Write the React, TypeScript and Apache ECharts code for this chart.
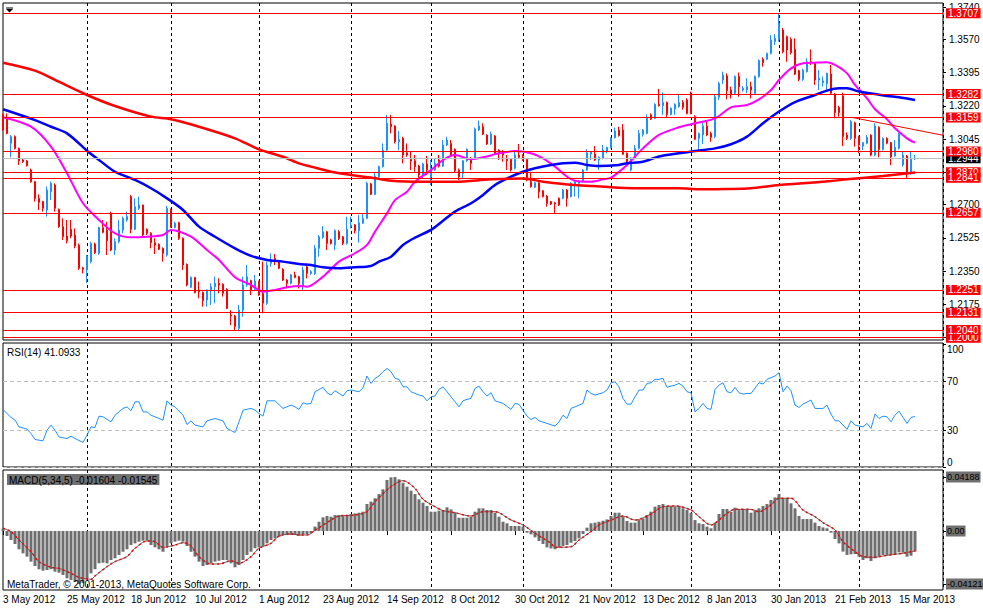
import React, { useEffect, useRef } from "react";
import * as echarts from "echarts";

// ---------- data ----------
// trading calendar
const startDate = "2012-05-03";
const closedDays = ["2012-12-25", "2013-01-01"];
const slotCount = 236; // visible bar slots (229 bars + empty space on the right)
const monthNames = ["Jan", "Feb", "Mar", "Apr", "May", "Jun", "Jul", "Aug", "Sep", "Oct", "Nov", "Dec"];
const labelEvery = 16;

// [open, high, low, close]
const candles: number[][] = [
  [1.3172,1.3180,1.3089,1.3093],[1.3160,1.3180,1.3070,1.3075],[1.3023,1.3066,1.2949,1.3058],[1.3058,1.3064,1.2990,1.2996],[1.2996,1.3000,1.2909,1.2931],
  [1.2935,1.2940,1.2920,1.2926],[1.2930,1.2935,1.2900,1.2905],[1.2882,1.2890,1.2815,1.2821],[1.2821,1.2825,1.2716,1.2733],[1.2733,1.2754,1.2672,1.2712],
  [1.2716,1.2720,1.2663,1.2681],[1.2672,1.2795,1.2637,1.2777],[1.2768,1.2821,1.2724,1.2812],[1.2803,1.2812,1.2663,1.2681],[1.2675,1.2680,1.2578,1.2584],
  [1.2584,1.2628,1.2514,1.2531],[1.2535,1.2619,1.2496,1.2510],[1.2570,1.2619,1.2523,1.2535],[1.2540,1.2575,1.2470,1.2482],[1.2487,1.2495,1.2356,1.2365],
  [1.2368,1.2372,1.2338,1.2360],[1.2356,1.2435,1.2286,1.2430],[1.2400,1.2505,1.2391,1.2496],[1.2493,1.2500,1.2440,1.2447],[1.2444,1.2584,1.2435,1.2579],
  [1.2579,1.2619,1.2549,1.2554],[1.2566,1.2610,1.2435,1.2510],[1.2654,1.2663,1.2455,1.2461],[1.2461,1.2523,1.2435,1.2505],[1.2505,1.2619,1.2496,1.2566],
  [1.2566,1.2637,1.2549,1.2628],[1.2619,1.2663,1.2610,1.2637],[1.2742,1.2751,1.2549,1.2570],[1.2570,1.2733,1.2566,1.2689],[1.2681,1.2742,1.2672,1.2698],
  [1.2698,1.2700,1.2535,1.2540],[1.2570,1.2575,1.2540,1.2549],[1.2549,1.2555,1.2470,1.2500],[1.2500,1.2523,1.2440,1.2487],[1.2491,1.2496,1.2460,1.2465],
  [1.2470,1.2475,1.2400,1.2444],[1.2435,1.2693,1.2426,1.2681],[1.2672,1.2680,1.2578,1.2584],[1.2580,1.2610,1.2575,1.2602],[1.2605,1.2610,1.2514,1.2523],
  [1.2523,1.2528,1.2356,1.2382],[1.2386,1.2390,1.2270,1.2277],[1.2265,1.2322,1.2260,1.2317],[1.2316,1.2320,1.2233,1.2237],[1.2251,1.2295,1.2207,1.2240],
  [1.2239,1.2243,1.2163,1.2195],[1.2198,1.2254,1.2163,1.2251],[1.2247,1.2286,1.2172,1.2268],[1.2268,1.2321,1.2181,1.2286],[1.2286,1.2312,1.2233,1.2277],
  [1.2281,1.2286,1.2216,1.2233],[1.2254,1.2260,1.2150,1.2154],[1.2119,1.2145,1.2066,1.2114],[1.2114,1.2120,1.2040,1.2058],[1.2049,1.2172,1.2040,1.2145],
  [1.2145,1.2321,1.2110,1.2277],[1.2277,1.2382,1.2268,1.2321],[1.2300,1.2305,1.2224,1.2251],[1.2254,1.2330,1.2251,1.2298],[1.2295,1.2300,1.2220,1.2224],
  [1.2233,1.2400,1.2128,1.2181],[1.2181,1.2400,1.2172,1.2382],[1.2391,1.2444,1.2373,1.2400],[1.2417,1.2440,1.2382,1.2400],[1.2400,1.2405,1.2360,1.2365],
  [1.2360,1.2365,1.2298,1.2303],[1.2303,1.2308,1.2259,1.2286],[1.2286,1.2335,1.2280,1.2330],[1.2330,1.2347,1.2312,1.2317],[1.2321,1.2325,1.2259,1.2286],
  [1.2268,1.2373,1.2250,1.2356],[1.2373,1.2391,1.2312,1.2338],[1.2338,1.2356,1.2330,1.2347],[1.2338,1.2487,1.2330,1.2470],[1.2470,1.2540,1.2426,1.2531],
  [1.2528,1.2587,1.2520,1.2557],[1.2557,1.2562,1.2461,1.2496],[1.2514,1.2520,1.2490,1.2496],[1.2487,1.2570,1.2461,1.2563],[1.2557,1.2566,1.2514,1.2522],
  [1.2531,1.2535,1.2487,1.2496],[1.2496,1.2636,1.2490,1.2570],[1.2584,1.2636,1.2575,1.2593],[1.2593,1.2598,1.2549,1.2563],[1.2563,1.2645,1.2500,1.2605],
  [1.2602,1.2654,1.2598,1.2628],[1.2628,1.2821,1.2623,1.2812],[1.2809,1.2815,1.2750,1.2754],[1.2754,1.2868,1.2750,1.2850],[1.2847,1.2905,1.2829,1.2900],
  [1.2900,1.3022,1.2895,1.2987],[1.2987,1.3172,1.2980,1.3128],[1.3124,1.3172,1.3075,1.3110],[1.3114,1.3118,1.3022,1.3031],[1.3031,1.3087,1.2987,1.3043],
  [1.3049,1.3057,1.2917,1.2961],[1.2973,1.3022,1.2952,1.2961],[1.2938,1.2978,1.2882,1.2929],[1.2931,1.2961,1.2873,1.2900],[1.2903,1.2910,1.2829,1.2856],
  [1.2856,1.2920,1.2838,1.2914],[1.2914,1.2956,1.2856,1.2882],[1.2847,1.2935,1.2803,1.2891],[1.2882,1.2943,1.2878,1.2917],[1.2935,1.2961,1.2895,1.2903],
  [1.2903,1.3040,1.2898,1.3014],[1.3014,1.3057,1.3008,1.3040],[1.3022,1.3040,1.2955,1.2961],[1.2991,1.2996,1.2870,1.2879],[1.2882,1.2890,1.2829,1.2847],
  [1.2865,1.2935,1.2838,1.2931],[1.2931,1.2996,1.2925,1.2991],[1.2943,1.2950,1.2882,1.2917],[1.2943,1.3105,1.2938,1.3098],[1.3093,1.3142,1.3088,1.3114],
  [1.3110,1.3128,1.3066,1.3071],[1.3066,1.3070,1.3014,1.3019],[1.3019,1.3084,1.3014,1.3071],[1.3061,1.3066,1.2965,1.2970],[1.2987,1.2991,1.2935,1.2970],
  [1.2973,1.2987,1.2926,1.2961],[1.2943,1.2961,1.2882,1.2931],[1.2938,1.2943,1.2875,1.2882],[1.2891,1.2987,1.2885,1.2961],[1.2961,1.3019,1.2945,1.2949],
  [1.2952,1.2965,1.2930,1.2938],[1.2938,1.2943,1.2823,1.2829],[1.2821,1.2873,1.2790,1.2794],[1.2791,1.2820,1.2787,1.2815],[1.2815,1.2820,1.2733,1.2768],
  [1.2773,1.2777,1.2738,1.2742],[1.2745,1.2750,1.2689,1.2707],[1.2716,1.2720,1.2698,1.2703],[1.2710,1.2715,1.2654,1.2703],[1.2733,1.2738,1.2693,1.2698],
  [1.2733,1.2782,1.2728,1.2777],[1.2777,1.2782,1.2689,1.2733],[1.2742,1.2818,1.2738,1.2812],[1.2803,1.2825,1.2742,1.2821],[1.2812,1.2829,1.2733,1.2821],
  [1.2821,1.2887,1.2815,1.2882],[1.2882,1.2991,1.2878,1.2973],[1.2966,1.2982,1.2935,1.2978],[1.2966,1.3008,1.2930,1.2935],[1.2935,1.2954,1.2882,1.2949],
  [1.2943,1.3014,1.2938,1.2987],[1.2978,1.3005,1.2970,1.3001],[1.3001,1.3054,1.2996,1.3049],[1.3052,1.3105,1.3048,1.3087],[1.3093,1.3110,1.3058,1.3063],
  [1.3093,1.3124,1.2961,1.2965],[1.2970,1.2975,1.2915,1.2926],[1.2882,1.2950,1.2875,1.2944],[1.2944,1.3014,1.2938,1.2996],[1.2996,1.3093,1.2990,1.3075],
  [1.3070,1.3098,1.3058,1.3093],[1.3075,1.3175,1.3070,1.3154],[1.3172,1.3180,1.3145,1.3151],[1.3154,1.3233,1.3150,1.3228],[1.3228,1.3309,1.3216,1.3221],
  [1.3221,1.3291,1.3172,1.3238],[1.3238,1.3243,1.3158,1.3175],[1.3175,1.3212,1.3170,1.3207],[1.3203,1.3233,1.3172,1.3228],[1.3216,1.3280,1.3210,1.3238],
  [1.3237,1.3250,1.3200,1.3212],[1.3251,1.3260,1.3175,1.3180],[1.3282,1.3295,1.3176,1.3180],[1.3163,1.3170,1.3040,1.3044],[1.3049,1.3079,1.2988,1.3075],
  [1.3067,1.3131,1.3019,1.3114],[1.3114,1.3137,1.3060,1.3067],[1.3075,1.3084,1.3031,1.3054],[1.3058,1.3277,1.3050,1.3268],[1.3265,1.3347,1.3251,1.3338],
  [1.3356,1.3400,1.3335,1.3382],[1.3377,1.3391,1.3254,1.3300],[1.3303,1.3321,1.3259,1.3277],[1.3286,1.3380,1.3280,1.3374],[1.3374,1.3395,1.3268,1.3321],
  [1.3303,1.3324,1.3295,1.3312],[1.3303,1.3365,1.3286,1.3321],[1.3321,1.3347,1.3259,1.3303],[1.3286,1.3380,1.3280,1.3374],[1.3374,1.3465,1.3368,1.3458],
  [1.3465,1.3475,1.3426,1.3447],[1.3465,1.3500,1.3460,1.3496],[1.3496,1.3593,1.3490,1.3566],[1.3558,1.3598,1.3540,1.3575],[1.3570,1.3707,1.3558,1.3654],
  [1.3619,1.3630,1.3496,1.3505],[1.3584,1.3590,1.3452,1.3514],[1.3570,1.3580,1.3490,1.3500],[1.3518,1.3575,1.3382,1.3387],[1.3405,1.3410,1.3350,1.3359],
  [1.3359,1.3415,1.3352,1.3408],[1.3400,1.3470,1.3395,1.3452],[1.3452,1.3517,1.3435,1.3447],[1.3444,1.3450,1.3330,1.3356],[1.3356,1.3409,1.3303,1.3365],
  [1.3342,1.3374,1.3321,1.3351],[1.3338,1.3394,1.3294,1.3391],[1.3388,1.3435,1.3282,1.3286],[1.3282,1.3287,1.3154,1.3184],[1.3212,1.3220,1.3163,1.3184],
  [1.3272,1.3289,1.3008,1.3058],[1.3066,1.3080,1.3040,1.3049],[1.3049,1.3145,1.3040,1.3137],[1.3131,1.3137,1.3005,1.3049],[1.3058,1.3063,1.2970,1.3014],
  [1.3008,1.3030,1.2987,1.3026],[1.3023,1.3066,1.3018,1.3054],[1.3066,1.3070,1.2955,1.2961],[1.2961,1.3128,1.2955,1.3114],[1.3107,1.3112,1.2949,1.2991],
  [1.2991,1.3054,1.2985,1.3049],[1.3049,1.3054,1.3018,1.3023],[1.3026,1.3030,1.2908,1.2952],[1.2956,1.3040,1.2952,1.3002],[1.2996,1.3077,1.2990,1.3072],
  [1.2909,1.2978,1.2900,1.2961],[1.2956,1.2961,1.2838,1.2865],[1.2865,1.2978,1.2856,1.2939],[1.2940,1.2961,1.2935,1.2944],
];

// moving averages, sampled [barIndex, value]
const maFast: number[][] = [
  [0,1.3160],[7,1.3110],[12,1.3005],[16,1.2865],[20,1.2707],[24,1.2619],[28,1.2549],[32,1.2528],[36,1.2531],[40,1.2540],[42,1.2567],[47,1.2531],
  [51,1.2461],[54,1.2409],[58,1.2318],[62,1.2277],[65,1.2242],[68,1.2251],[71,1.2265],[74,1.2272],[76,1.2268],[80,1.2321],[84,1.2400],[88,1.2444],
  [91,1.2488],[93,1.2558],[96,1.2654],[98,1.2724],[101,1.2768],[103,1.2821],[107,1.2882],[110,1.2935],[113,1.2961],[117,1.2939],[120,1.2949],
  [124,1.2970],[128,1.2982],[132,1.2970],[135,1.2944],[138,1.2900],[141,1.2847],[143,1.2826],[147,1.2821],[150,1.2833],[152,1.2842],[154,1.2873],
  [156,1.2909],[160,1.2996],[164,1.3067],[169,1.3107],[173,1.3128],[178,1.3154],[182,1.3212],[186,1.3224],[189,1.3254],[192,1.3303],[194,1.3356],
  [197,1.3417],[200,1.3444],[203,1.3447],[206,1.3449],[208,1.3435],[211,1.3391],[213,1.3330],[216,1.3259],[218,1.3202],[221,1.3149],[223,1.3102],
  [226,1.3049],[228,1.3026],
];
const maMid: number[][] = [
  [0,1.3202],[8,1.3145],[12,1.3110],[16,1.3075],[21,1.2984],[24,1.2935],[28,1.2873],[33,1.2830],[37,1.2786],[41,1.2733],[45,1.2672],[49,1.2584],
  [53,1.2531],[58,1.2470],[62,1.2430],[66,1.2409],[70,1.2400],[74,1.2388],[77,1.2382],[80,1.2370],[84,1.2365],[88,1.2370],[92,1.2377],[94,1.2400],
  [97,1.2426],[100,1.2488],[103,1.2526],[107,1.2567],[110,1.2615],[113,1.2663],[117,1.2707],[120,1.2751],[123,1.2803],[127,1.2847],[130,1.2873],
  [133,1.2891],[137,1.2909],[140,1.2918],[143,1.2921],[146,1.2909],[149,1.2903],[154,1.2909],[156,1.2918],[160,1.2926],[164,1.2953],[169,1.2970],
  [173,1.2982],[178,1.2996],[182,1.3018],[186,1.3058],[190,1.3128],[194,1.3190],[198,1.3240],[203,1.3277],[206,1.3300],[209,1.3312],[211,1.3312],
  [214,1.3295],[218,1.3282],[221,1.3272],[224,1.3265],[228,1.3251],
];
const maSlow: number[][] = [
  [0,1.3447],[8,1.3405],[13,1.3356],[21,1.3277],[28,1.3219],[37,1.3163],[42,1.3149],[49,1.3110],[58,1.3049],[64,1.2991],[70,1.2952],[74,1.2917],
  [77,1.2900],[82,1.2873],[87,1.2856],[93,1.2839],[97,1.2826],[105,1.2821],[113,1.2821],[122,1.2833],[130,1.2837],[135,1.2821],[140,1.2809],
  [147,1.2798],[154,1.2789],[160,1.2786],[169,1.2786],[174,1.2781],[181,1.2782],[187,1.2786],[194,1.2803],[200,1.2812],[207,1.2824],[211,1.2833],
  [220,1.2851],[228,1.2869],
];

// horizontal levels and trend line
const levelPrices = [1.3707, 1.3282, 1.3159, 1.2980, 1.2870, 1.2841, 1.2657, 1.2251, 1.2131, 1.2000, 1.2040];
const bidPrice = 1.2944;
const trendLine = [[212, 1.3160], [235, 1.3065]];
const priceTicks = [1.3740, 1.3570, 1.3395, 1.3220, 1.3045, 1.2870, 1.2700, 1.2525, 1.2350, 1.2175, 1.2000];
const priceLabelsHidden = [1.2870, 1.2000]; // covered by the level labels in the picture
const priceMin = 1.19875;
const priceMax = 1.37612;

// RSI(14), sampled [barIndex, value]
const rsiPts: number[][] = [
  [0,46.9],[2,40.4],[3,38.2],[4,32.7],[6,30.8],[7,27.3],[8,22.4],[10,21.3],[11,30],[12,34.1],[13,30],[14,24.5],[16,23.2],[17,25.1],[18,23.2],
  [20,20],[21,25.9],[22,32.7],[23,32.2],[24,41.4],[25,40.9],[27,36.8],[28,42.2],[30,47.7],[31,49],[32,45.8],[33,53.1],[34,53.1],[35,44.9],
  [36,44.9],[37,42.2],[40,38.2],[41,53.9],[42,50.4],[43,49],[45,42.2],[46,34.6],[47,37.6],[48,34.1],[50,32.7],[51,37.6],[53,39.5],[55,37.6],
  [56,31.4],[58,28.1],[59,36.8],[60,46.3],[62,47.7],[63,46.3],[64,43.6],[65,41.4],[66,53.9],[68,53.9],[70,47.7],[72,50.4],[73,49],[74,46.9],
  [75,52.3],[76,51.2],[77,51.8],[78,61.3],[80,64.9],[81,60.5],[82,58.6],[83,62.1],[84,59.9],[85,57.8],[86,62.1],[87,62.7],[89,61.3],[90,64.5],
  [91,74.1],[92,68.1],[93,72.2],[94,74.1],[95,77.6],[96,80.3],[97,77.6],[98,72.2],[99,71.4],[100,65.3],[101,65.3],[102,61.3],[104,58.6],
  [105,57.8],[106,53.9],[107,57.2],[108,57.8],[109,63.2],[110,65.3],[111,61.3],[113,53.1],[114,49],[115,53.9],[116,55.1],[117,55.9],[118,64],
  [119,65.9],[120,61.3],[121,57.8],[122,60.5],[123,53.9],[125,51.8],[127,46.9],[128,51.8],[129,51],[131,41.4],[132,38.7],[133,40.4],[134,37.6],
  [136,35.5],[138,33.3],[139,36.8],[140,42.2],[141,39.5],[142,47.7],[143,49],[145,51.8],[146,62.7],[147,59.9],[148,58.6],[150,60.5],[151,62.7],
  [152,68.6],[153,69.4],[154,65.3],[155,55.9],[156,51.2],[157,51.2],[158,57.2],[159,62.7],[160,62.7],[161,68.1],[162,68.6],[163,71.4],[164,71.4],
  [165,72.2],[166,64.9],[167,65.9],[168,66.7],[169,68.1],[170,65.9],[171,61.3],[172,60.5],[173,44.9],[174,47.7],[175,51.8],[176,47.7],[177,46.9],
  [178,63.2],[179,66.7],[180,68.6],[181,61.3],[182,60.5],[183,64.9],[184,60.5],[185,59.4],[186,59.9],[187,59.9],[189,68.6],[190,67.6],[191,71.4],
  [193,74.1],[194,76.8],[195,61.3],[196,65.9],[197,62.1],[198,50.4],[199,48.5],[200,51.2],[202,54.5],[203,47.7],[205,47.7],[206,50.4],[207,43.1],
  [208,37.6],[209,37.6],[211,30.6],[212,37.6],[213,34.1],[215,32.7],[216,35.5],[217,31.4],[218,43.1],[219,39.5],[220,41.4],[221,40.9],[222,36.8],
  [223,42.2],[224,45.5],[225,40.4],[226,35.5],[227,40.4],[228,41.0933],
];
const rsiLevels = [70, 30, 0];
const rsiTicks = [100, 70, 30, 0];

// MACD(5,34,5)
const macdHist = [
  0.0018,-0.0039,-0.0070,-0.0101,-0.0142,-0.0173,-0.0199,-0.0238,-0.0272,-0.0297,
  -0.0308,-0.0303,-0.0297,-0.0316,-0.0324,-0.0342,-0.0367,-0.0380,-0.0395,-0.04121,
  -0.0405,-0.0370,-0.0329,-0.0297,-0.0251,-0.0246,-0.0251,-0.0225,-0.0212,-0.0186,
  -0.0161,-0.0142,-0.0109,-0.0096,-0.0083,-0.0075,-0.0075,-0.0109,-0.0127,-0.0142,
  -0.0161,-0.0116,-0.0096,-0.0083,-0.0075,-0.0083,-0.0116,-0.0161,-0.0199,-0.0238,
  -0.0272,-0.0264,-0.0251,-0.0238,-0.0231,-0.0225,-0.0225,-0.0251,-0.0282,-0.0264,
  -0.0225,-0.0186,-0.0161,-0.0134,-0.0127,-0.0116,-0.0096,-0.0070,-0.0057,-0.0044,
  -0.0031,-0.0031,-0.0031,-0.0031,-0.0036,-0.0028,-0.0025,-0.0015,0.0034,0.0072,
  0.0106,0.0116,0.0111,0.0124,0.0124,0.0116,0.0124,0.0132,0.0137,0.0142,
  0.0150,0.0210,0.0228,0.0254,0.0287,0.0324,0.0396,0.0417,0.04188,0.0401,
  0.0375,0.0344,0.0313,0.0287,0.0246,0.0220,0.0194,0.0150,0.0150,0.0158,
  0.0163,0.0184,0.0168,0.0142,0.0103,0.0103,0.0103,0.0111,0.0150,0.0176,
  0.0176,0.0163,0.0163,0.0142,0.0111,0.0072,0.0060,0.0039,0.0039,0.0039,
  0.0034,-0.0013,-0.0026,-0.0049,-0.0078,-0.0101,-0.0127,-0.0135,-0.0142,-0.0127,
  -0.0116,-0.0109,-0.0091,-0.0078,-0.0057,-0.0023,0.0026,0.0060,0.0065,0.0072,
  0.0080,0.0090,0.0117,0.0142,0.0142,0.0111,0.0078,0.0065,0.0065,0.0085,
  0.0098,0.0124,0.0150,0.0189,0.0202,0.0210,0.0194,0.0194,0.0189,0.0189,
  0.0176,0.0163,0.0142,0.0085,0.0060,0.0054,0.0034,0.0021,0.0065,0.0132,
  0.0171,0.0171,0.0150,0.0181,0.0168,0.0168,0.0163,0.0142,0.0158,0.0176,
  0.0194,0.0210,0.0241,0.0261,0.0287,0.0254,0.0254,0.0215,0.0176,0.0117,
  0.0093,0.0093,0.0093,0.0065,0.0039,0.0028,0.0021,-0.0013,-0.0062,-0.0096,
  -0.0160,-0.0186,-0.0181,-0.0179,-0.0199,-0.0225,-0.0212,-0.0233,-0.0212,-0.0199,
  -0.0186,-0.0186,-0.0181,-0.0179,-0.0166,-0.0168,-0.0199,-0.0192,-0.01604,
];
const macdSignal: number[][] = [
  [0,0.0021],[2,-0.0005],[4,-0.0070],[7,-0.0161],[9,-0.0238],[12,-0.0282],[14,-0.0290],[17,-0.0329],[19,-0.0360],[22,-0.0375],[23,-0.0349],
  [26,-0.0277],[28,-0.0238],[31,-0.0199],[33,-0.0134],[36,-0.0078],[38,-0.0083],[40,-0.0127],[43,-0.0109],[45,-0.0091],[47,-0.0116],[49,-0.0199],
  [52,-0.0256],[54,-0.0256],[57,-0.0231],[59,-0.0251],[62,-0.0199],[64,-0.0134],[67,-0.0096],[69,-0.0039],[72,-0.0023],[74,-0.0031],[76,-0.0031],
  [78,0.0005],[82,0.0085],[84,0.0116],[88,0.0124],[91,0.0150],[93,0.0228],[97,0.0344],[100,0.0391],[103,0.0331],[105,0.0246],[108,0.0189],
  [110,0.0158],[113,0.0142],[117,0.0116],[120,0.0150],[123,0.0150],[127,0.0085],[130,0.0047],[133,-0.0018],[137,-0.0096],[138,-0.0127],
  [142,-0.0122],[144,-0.0070],[147,-0.0005],[149,0.0047],[152,0.0085],[155,0.0116],[158,0.0085],[162,0.0132],[165,0.0189],[168,0.0194],
  [172,0.0163],[174,0.0111],[177,0.0047],[178,0.0060],[181,0.0137],[183,0.0168],[187,0.0168],[189,0.0150],[192,0.0202],[194,0.0254],
  [197,0.0254],[200,0.0163],[203,0.0111],[205,0.0065],[208,0.0008],[210,-0.0083],[213,-0.0160],[215,-0.0199],[218,-0.0204],[220,-0.0194],
  [223,-0.0181],[225,-0.0173],[228,-0.01545],
];
const macdTicks = [0.04188, 0, -0.04121];
const macdMin = -0.04581;
const macdMax = 0.04737;

const rsiTitle = "RSI(14) 41.0933";
const macdTitle = "MACD(5,34,5) -0.01604 -0.01545";
const copyright = "MetaTrader, \u00a9 2001-2013, MetaQuotes Software Corp.";

// ---------- helpers ----------
function buildCalendar() {
  const dates: string[] = [];
  const monthStarts = new Set<number>();
  const d = new Date(startDate + "T00:00:00Z");
  let prevMonth = -1;
  while (dates.length < slotCount) {
    const wd = d.getUTCDay();
    const iso = d.toISOString().slice(0, 10);
    if (wd !== 0 && wd !== 6 && closedDays.indexOf(iso) < 0) {
      const m = d.getUTCMonth();
      if (prevMonth !== -1 && m !== prevMonth) monthStarts.add(dates.length);
      prevMonth = m;
      dates.push(`${d.getUTCDate()} ${monthNames[m]} ${d.getUTCFullYear()}`);
    }
    d.setUTCDate(d.getUTCDate() + 1);
  }
  return { dates, monthStarts };
}

const FONT = "'Liberation Sans',Arial,sans-serif";
const FS = 10;

function buildOption() {
  const { dates, monthStarts } = buildCalendar();
  const isLabel = (i: number) => i % labelEvery === 0;
  const gridBox = [
    { left: 3, top: 3, width: 940, height: 337 },
    { left: 3, top: 343, width: 940, height: 124 },
    { left: 3, top: 470, width: 940, height: 120 },
  ];
  const grid = gridBox.map((g) => ({
    ...g,
    show: true,
    borderColor: "#000",
    borderWidth: 1,
    backgroundColor: "#fff",
    containLabel: false,
    outerBoundsMode: "none",
  }));
  const xAxis = [0, 1, 2].map((g) => ({
    type: "category",
    gridIndex: g,
    data: dates,
    boundaryGap: false,
    axisLine: { show: false },
    axisTick: { show: g === 2, interval: isLabel, length: 4, lineStyle: { color: "#000" } },
    axisLabel: {
      show: g === 2,
      interval: isLabel,
      align: "left",
      margin: 4,
      color: "#000",
      fontSize: FS,
      fontFamily: FONT,
    },
    splitLine: {
      show: true,
      interval: (i: number) => monthStarts.has(i),
      lineStyle: { color: "#000", width: 1, type: [3, 3] },
    },
  }));
  const commonY = {
    type: "value",
    position: "right",
    axisLine: { show: false },
    splitLine: { show: false },
  };
  const priceLabelValues = priceTicks.filter((v) => priceLabelsHidden.indexOf(v) < 0);
  const yAxis = [
    {
      ...commonY,
      gridIndex: 0,
      min: priceMin,
      max: priceMax,
      axisTick: { show: true, length: 3, customValues: priceTicks, lineStyle: { color: "#000" } },
      axisLabel: {
        customValues: priceLabelValues,
        formatter: (v: number) => v.toFixed(4),
        color: "#000",
        fontSize: FS,
        lineHeight: 10,
        fontFamily: FONT,
        margin: 6,
      },
    },
    {
      ...commonY,
      gridIndex: 1,
      min: 0,
      max: 101,
      axisTick: { show: true, length: 3, customValues: rsiTicks, lineStyle: { color: "#000" } },
      axisLabel: {
        customValues: rsiTicks,
        formatter: (v: number) => (v >= 100 ? "{dn|100}" : v <= 0 ? "{up|0}" : String(Math.round(v))),
        rich: {
          dn: { padding: [10, 0, 0, 0], fontSize: FS, fontFamily: FONT, color: "#000" },
          up: { padding: [0, 0, 10, 0], fontSize: FS, fontFamily: FONT, color: "#000" },
        },
        color: "#000",
        fontSize: FS,
        fontFamily: FONT,
        margin: 4,
      },
    },
    {
      ...commonY,
      gridIndex: 2,
      min: macdMin,
      max: macdMax,
      axisTick: { show: true, length: 3, customValues: macdTicks, lineStyle: { color: "#000" } },
      axisLabel: {
        customValues: macdTicks,
        formatter: (v: number) => (v === 0 ? "0.00" : v.toFixed(5)),
        color: "#000",
        backgroundColor: "#707070",
        padding: [1, 1, 0, 1],
        fontSize: 9,
        lineHeight: 10,
        fontFamily: FONT,
        margin: 3,
      },
    },
  ];

  const levelLabel = {
    show: true,
    position: "end",
    distance: 3,
    color: "#fff",
    backgroundColor: "#ff0000",
    padding: [0, 2, 0, 2],
    fontSize: FS,
    lineHeight: 10,
    fontFamily: FONT,
  };
  const markBase = {
    silent: true,
    symbol: ["none", "none"],
    animation: false,
    precision: 5,
  };

  const series: any[] = [
    {
      type: "candlestick",
      name: "price",
      xAxisIndex: 0,
      yAxisIndex: 0,
      barWidth: 2,
      silent: true,
      z: 2,
      data: candles.map(([o, h, l, c]) => [o, c, l, h]),
      itemStyle: {
        color: "#1E90FF",
        color0: "#FF0000",
        borderColor: "#1E90FF",
        borderColor0: "#FF0000",
        borderWidth: 1,
      },
    },
    {
      type: "line",
      name: "maFast",
      xAxisIndex: 0,
      yAxisIndex: 0,
      data: maFast,
      showSymbol: false,
      silent: true,
      smooth: 0.3,
      z: 3,
      lineStyle: { color: "#FF00FF", width: 2 },
      markLine: {
        ...markBase,
        lineStyle: { color: "#c0c0c0", width: 1, type: "solid" },
        label: { ...levelLabel, backgroundColor: "#000", color: "#fff" },
        data: [{ yAxis: bidPrice, label: { formatter: bidPrice.toFixed(4) } }],
      },
    },
    {
      type: "line",
      name: "maMid",
      xAxisIndex: 0,
      yAxisIndex: 0,
      data: maMid,
      showSymbol: false,
      silent: true,
      smooth: 0.3,
      z: 3,
      lineStyle: { color: "#0000FF", width: 2.5 },
    },
    {
      type: "line",
      name: "maSlow",
      xAxisIndex: 0,
      yAxisIndex: 0,
      data: maSlow,
      showSymbol: false,
      silent: true,
      smooth: 0.3,
      z: 4,
      lineStyle: { color: "#FF0000", width: 2.5 },
      markLine: {
        ...markBase,
        lineStyle: { color: "#ff0000", width: 1, type: "solid" },
        label: levelLabel,
        data: [
          ...levelPrices.map((v) => ({ yAxis: v, label: { formatter: v.toFixed(4) } })),
          [
            { coord: trendLine[0], label: { show: false } },
            { coord: trendLine[1], label: { show: false } },
          ],
        ],
      },
    },
    {
      type: "line",
      name: "rsi",
      xAxisIndex: 1,
      yAxisIndex: 1,
      data: rsiPts,
      showSymbol: false,
      silent: true,
      lineStyle: { color: "#1E90FF", width: 1 },
      markLine: {
        ...markBase,
        label: { show: false },
        lineStyle: { color: "#c0c0c0", width: 1, type: [4, 3] },
        data: rsiLevels.map((v) => ({ yAxis: v })),
      },
    },
    {
      type: "bar",
      name: "macd",
      xAxisIndex: 2,
      yAxisIndex: 2,
      data: macdHist,
      barWidth: 3,
      silent: true,
      itemStyle: { color: "#6f6f6f" },
    },
    {
      type: "line",
      name: "signalBase",
      xAxisIndex: 2,
      yAxisIndex: 2,
      data: macdSignal,
      showSymbol: false,
      silent: true,
      smooth: 0.3,
      z: 3,
      lineStyle: { color: "#606060", width: 1 },
    },
    {
      type: "line",
      name: "signal",
      xAxisIndex: 2,
      yAxisIndex: 2,
      data: macdSignal,
      showSymbol: false,
      silent: true,
      smooth: 0.3,
      z: 4,
      lineStyle: { color: "#FF0000", width: 1.5, type: [2, 3] },
    },
  ];

  const graphic = [
    {
      type: "polygon",
      silent: true,
      shape: { points: [[6, 9], [13, 9], [9.5, 12.5]] },
      style: { fill: "#000" },
    },
    {
      type: "line",
      silent: true,
      shape: { x1: 6, y1: 8, x2: 13, y2: 8 },
      style: { stroke: "#000", lineWidth: 1 },
    },
    {
      type: "text",
      silent: true,
      x: 7,
      y: 347,
      style: { text: rsiTitle, fill: "#000", fontSize: FS, fontFamily: FONT, align: "left", verticalAlign: "top" },
    },
    {
      type: "text",
      silent: true,
      x: 7,
      y: 474,
      style: {
        text: macdTitle,
        fill: "#000",
        fontSize: FS,
        fontFamily: FONT,
        align: "left",
        verticalAlign: "top",
        backgroundColor: "#707070",
        padding: [1, 2, 0, 2],
      },
    },
    {
      type: "text",
      silent: true,
      x: 7,
      y: 579,
      z: 10,
      style: { text: copyright, fill: "#000", fontSize: FS, fontFamily: FONT, align: "left", verticalAlign: "top" },
    },
  ];

  return {
    animation: false,
    backgroundColor: "#fff",
    textStyle: { fontFamily: FONT, fontSize: FS },
    tooltip: { show: false },
    grid,
    xAxis,
    yAxis,
    series,
    graphic,
  };
}

export default function App() {
  const ref = useRef<HTMLDivElement>(null);
  useEffect(() => {
    document.body.style.margin = "0";
    if (!ref.current) return;
    const chart = echarts.init(ref.current, null, { renderer: "svg" });
    chart.setOption(buildOption() as any);
    return () => chart.dispose();
  }, []);
  return <div ref={ref} style={{ width: 983, height: 609, background: "#fff" }} />;
}
